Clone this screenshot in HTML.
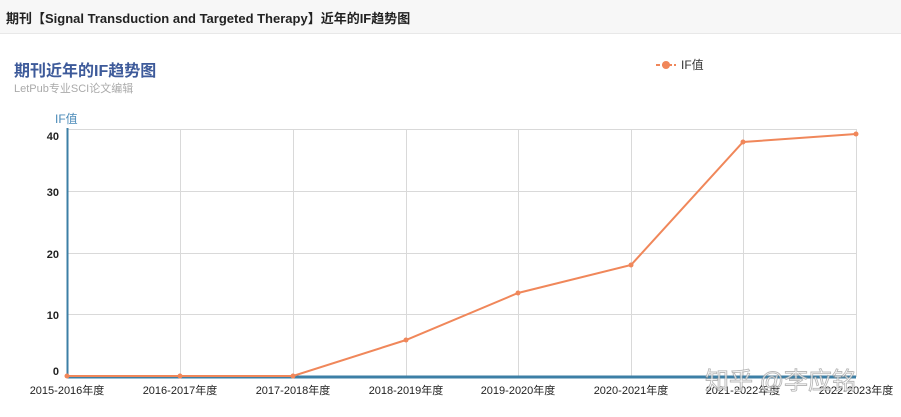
<!DOCTYPE html>
<html><head><meta charset="utf-8"><style>
body{margin:0;width:901px;height:417px;background:#fff;overflow:hidden;font-family:"Liberation Sans","Noto Sans CJK SC",sans-serif;}
.hdr{position:absolute;left:0;top:0;width:901px;height:33px;background:#f7f7f7;border-bottom:1px solid #e8e8e8;}
.hdr span{position:absolute;left:6px;top:8px;font-size:13px;font-weight:bold;color:#222;}
</style></head><body>
<div class="hdr"><span>期刊【Signal Transduction and Targeted Therapy】近年的IF趋势图</span></div>
<svg width="901" height="417" style="position:absolute;left:0;top:0" font-family="Liberation Sans, Noto Sans CJK SC, sans-serif">
<text x="14" y="76" font-size="16" font-weight="bold" fill="#3d5a9a">期刊近年的IF趋势图</text>
<text x="14" y="92" font-size="11" fill="#aaa">LetPub专业SCI论文编辑</text>
<line x1="656" y1="65" x2="676" y2="65" stroke="#f0875a" stroke-width="2" stroke-dasharray="4,2"/>
<circle cx="666" cy="65" r="4" fill="#f0875a"/>
<text x="681" y="69" font-size="12" fill="#333">IF值</text>
<text x="55" y="123" font-size="12" fill="#4a8ab8">IF值</text>
<g stroke="#d9d9d9" stroke-width="1">
<line x1="67" y1="129.5" x2="856" y2="129.5"/>
<line x1="67" y1="191.5" x2="856" y2="191.5"/>
<line x1="67" y1="253.5" x2="856" y2="253.5"/>
<line x1="67" y1="314.5" x2="856" y2="314.5"/>
<line x1="180.5" y1="129" x2="180.5" y2="377"/>
<line x1="293.5" y1="129" x2="293.5" y2="377"/>
<line x1="406.5" y1="129" x2="406.5" y2="377"/>
<line x1="518.5" y1="129" x2="518.5" y2="377"/>
<line x1="631.5" y1="129" x2="631.5" y2="377"/>
<line x1="743.5" y1="129" x2="743.5" y2="377"/>
<line x1="856.5" y1="129" x2="856.5" y2="377"/>
</g>
<line x1="67.5" y1="128" x2="67.5" y2="378" stroke="#3c7fa6" stroke-width="2"/>
<line x1="67" y1="377" x2="856" y2="377" stroke="#3c7fa6" stroke-width="3"/>
<g font-size="11" fill="#222" font-weight="bold" text-anchor="end">
<text x="59" y="140">40</text><text x="59" y="196">30</text><text x="59" y="258">20</text><text x="59" y="319">10</text><text x="59" y="375">0</text>
</g>
<g font-size="11" fill="#222" text-anchor="middle">
<text x="67" y="394">2015-2016年度</text><text x="180" y="394">2016-2017年度</text><text x="293" y="394">2017-2018年度</text><text x="406" y="394">2018-2019年度</text><text x="518" y="394">2019-2020年度</text><text x="631" y="394">2020-2021年度</text><text x="743" y="394">2021-2022年度</text><text x="856" y="394">2022-2023年度</text>
</g>
<polyline points="67,376 180,376 293,376 406,340 518,293 631,265 743,142 856,134" fill="none" stroke="#f0875a" stroke-width="2"/>
<g fill="#f0875a">
<circle cx="67" cy="376" r="2.5"/><circle cx="180" cy="376" r="2.5"/><circle cx="293" cy="376" r="2.5"/><circle cx="406" cy="340" r="2.5"/><circle cx="518" cy="293" r="2.5"/><circle cx="631" cy="265" r="2.5"/><circle cx="743" cy="142" r="2.5"/><circle cx="856" cy="134" r="2.5"/>
</g>
<text x="705" y="389" font-size="24" fill="#fff" fill-opacity="0.75" stroke="#888" stroke-opacity="0.6" stroke-width="0.9">知乎 @李应铭</text>
</svg>
</body></html>
